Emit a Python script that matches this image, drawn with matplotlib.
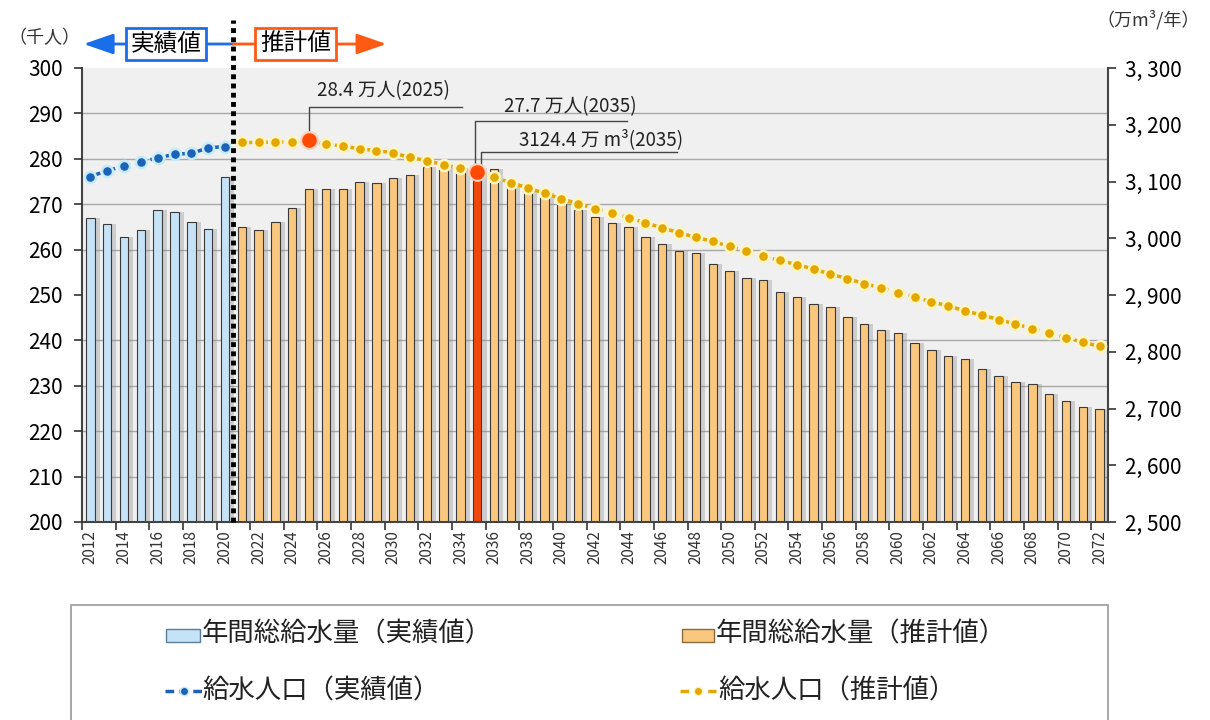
import matplotlib
matplotlib.use("Agg")
import matplotlib.pyplot as plt
from matplotlib.patches import Rectangle
from matplotlib.lines import Line2D
import matplotlib.transforms as mtransforms

plt.rcParams['font.family'] = ['Noto Sans CJK JP', 'DejaVu Sans']

# ---------------- data ----------------
years_actual = list(range(2012, 2021))
years_proj = list(range(2021, 2073))

# 年間総給水量 (万m3/年)
supply_actual = [3036, 3025, 3002, 3015, 3050, 3047, 3029, 3017, 3108]
supply_proj = [3020, 3015, 3029, 3054, 3086, 3086, 3086, 3100, 3098, 3106,
               3111, 3125, 3124, 3119, 3124.4, 3122, 3098, 3084, 3079, 3064,
               3049, 3037, 3026, 3020, 3002, 2990, 2978, 2974, 2954, 2943,
               2930, 2927, 2906, 2896, 2884, 2879, 2862, 2849, 2838, 2833,
               2815, 2803, 2793, 2787, 2769, 2758, 2746, 2744, 2725, 2714,
               2702, 2699]

# 給水人口 (千人)
pop_actual = [276.1, 277.4, 278.4, 279.3, 280.2, 281.0, 281.2, 282.4, 282.7]
pop_proj = [283.6, 283.6, 283.7, 283.7, 284.1, 283.2, 282.8, 282.2, 281.8, 281.3,
            280.3, 279.6, 278.7, 277.9, 277.0, 276.0, 274.7, 273.6, 272.4, 271.2,
            270.1, 269.0, 268.1, 267.0, 265.9, 264.8, 263.7, 262.7, 261.8, 260.7,
            259.6, 258.6, 257.6, 256.7, 255.7, 254.6, 253.6, 252.5, 251.6, 250.5,
            249.6, 248.5, 247.6, 246.5, 245.6, 244.6, 243.6, 242.6, 241.6, 240.6,
            239.6, 238.7]

highlight_years = [2025, 2035]
highlight_bar_year = 2035

left_ticks = [200, 210, 220, 230, 240, 250, 260, 270, 280, 290, 300]
right_ticks = [2500, 2600, 2700, 2800, 2900, 3000, 3100, 3200, 3300]

legend_labels = ['年間総給水量（実績値）', '年間総給水量（推計値）',
                 '給水人口（実績値）', '給水人口（推計値）']

# ---------------- colours ----------------
c_bar_act = '#c6e2f6'
c_bar_proj = '#fac77f'
c_bar_hi = '#f0480c'
c_edge = '#3a3a3a'
c_pop_act = '#1c63b8'
c_pop_act_edge = '#c4ecfa'
c_pop_proj = '#e4a600'
c_pop_proj_edge = '#fff5bf'
c_hi = '#ff4a06'
c_blue = '#1a6ee8'
c_orange = '#ff5a14'

L_MIN, L_MAX = 200, 300
R_MIN, R_MAX = 2500, 3300

fig = plt.figure(figsize=(12.1, 7.2), dpi=100)
ax = fig.add_axes([82 / 1210, 1 - 522 / 720, 1026 / 1210, 454 / 720])
ax.set_facecolor('#f0f0f0')

bw = 0.5
all_years = years_actual + years_proj
all_supply = supply_actual + supply_proj
ax.bar([y + 0.3 for y in all_years], [v - R_MIN for v in all_supply], bottom=R_MIN,
       width=bw, color='#8c8c8c', alpha=0.35, linewidth=0, zorder=1)
ax.bar(years_actual, [v - R_MIN for v in supply_actual], bottom=R_MIN, width=bw,
       color=c_bar_act, edgecolor=c_edge, linewidth=0.8, zorder=2)
proj_colors = [c_bar_hi if y == highlight_bar_year else c_bar_proj for y in years_proj]
ax.bar(years_proj, [v - R_MIN for v in supply_proj], bottom=R_MIN, width=bw,
       color=proj_colors, edgecolor=c_edge, linewidth=0.8, zorder=2)

ax.set_xlim(2011.5, 2072.5)
ax.set_ylim(R_MIN, R_MAX)

# gridlines follow the left (population) scale, drawn behind the bars
scale = (R_MAX - R_MIN) / (L_MAX - L_MIN)
ax.set_yticks([R_MIN + (t - L_MIN) * scale for t in left_ticks], minor=True)
ax.grid(axis='y', which='minor', color='#a8a8a8', linewidth=1.0, zorder=0)
ax.grid(axis='y', which='major', visible=False)
ax.set_axisbelow(True)

ax.set_xticks(list(range(2012, 2073, 2)))
ax.set_xticklabels([str(y) for y in range(2012, 2073, 2)], rotation=90, fontsize=11,
                   color='#333333')
ax.set_xticks([2011.5 + 2 * k for k in range(31)], minor=True)
ax.tick_params(axis='x', which='major', length=0, pad=6)
ax.tick_params(axis='x', which='minor', length=6, width=1.2, color='#333333')

for s in ['left', 'right', 'bottom']:
    ax.spines[s].set_color('#444444')
    ax.spines[s].set_linewidth(1.5)
ax.spines['top'].set_visible(False)

# population axis (left)
ax2 = ax.twinx()
ax2.set_ylim(L_MIN, L_MAX)

# right axis: supply volume
ax.yaxis.tick_right()
ax.set_yticks(right_ticks)
ax.set_yticklabels([f"{v // 1000}, {v % 1000:03d}" for v in right_ticks], fontsize=15)
ax.tick_params(axis='y', which='major', left=False, labelleft=False, right=True, labelright=True,
               direction='out', length=6, width=1.2, color='#333333', pad=6)
ax.tick_params(axis='y', which='minor', left=False, right=False, length=0)

ax2.yaxis.tick_left()
ax2.set_yticks(left_ticks)
ax2.set_yticklabels([str(v) for v in left_ticks], fontsize=15)
ax2.tick_params(axis='y', which='both', right=False, labelright=False, left=True, labelleft=True,
                direction='out', length=6, width=1.2, color='#333333', pad=8)
for s in ['top', 'right', 'bottom', 'left']:
    ax2.spines[s].set_visible(False)

ax2.plot(years_actual, pop_actual, linestyle=(0, (3, 1.5)), color=c_pop_act, linewidth=2.5,
         marker='o', markersize=8, markerfacecolor=c_pop_act, markeredgecolor=c_pop_act_edge,
         markeredgewidth=1.8, zorder=5)
ax2.plot(years_proj, pop_proj, linestyle=(0, (3, 1.5)), color=c_pop_proj, linewidth=2.5,
         marker='o', markersize=8, markerfacecolor=c_pop_proj, markeredgecolor=c_pop_proj_edge,
         markeredgewidth=1.8, zorder=5)
hi_vals = [pop_proj[years_proj.index(y)] for y in highlight_years]
ax2.plot(highlight_years, hi_vals, linestyle='none', marker='o', markersize=12,
         markerfacecolor=c_hi, markeredgecolor='#ffd0b8', markeredgewidth=1.5, zorder=6)

# vertical dotted separator
ax2.plot([2020.5, 2020.5], [200, 310.5], color='black', linewidth=3.5,
         linestyle=(0, (1, 0.9)), clip_on=False, zorder=7)

# annotations
ann_col = '#444444'
p25 = pop_proj[years_proj.index(2025)]
p35 = pop_proj[years_proj.index(2035)]
ax2.plot([2025, 2025, 2034.1], [p25 + 0.8, 291.4, 291.4], color=ann_col, lw=1, zorder=4)
ax2.text(2025.5, 295.0, '28.4 万人(2025)', fontsize=13.5, va='center', ha='left', color='#222222')
ax2.plot([2034.85, 2034.85, 2043.9], [p35 + 0.8, 288.3, 288.3], color=ann_col, lw=1, zorder=4)
ax2.text(2036.6, 291.4, '27.7 万人(2035)', fontsize=13.5, va='center', ha='left', color='#222222')
ax2.plot([2035.2, 2035.2, 2046.9], [p35 + 0.5, 281.6, 281.6], color=ann_col, lw=1, zorder=4)
ax2.text(2037.5, 284.2, '3124.4 万 m³(2035)', fontsize=13.5, va='center', ha='left', color='#222222')

# header arrows and boxes
trans = mtransforms.blended_transform_factory(ax.transData, ax.transAxes)
yh = (522 - 44) / 454
ax.annotate('', xy=(2011.6, yh), xytext=(2020.5, yh), xycoords=trans, textcoords=trans,
            arrowprops=dict(arrowstyle='-|>,head_length=1.3,head_width=0.45', color=c_blue,
                            lw=2, mutation_scale=14, shrinkA=0, shrinkB=0), annotation_clip=False)
ax.annotate('', xy=(2029.6, yh), xytext=(2020.5, yh), xycoords=trans, textcoords=trans,
            arrowprops=dict(arrowstyle='-|>,head_length=1.3,head_width=0.45', color=c_orange,
                            lw=2, mutation_scale=14, shrinkA=0, shrinkB=0), annotation_clip=False)
ax.text(2016.5, yh, '実績値', transform=trans, fontsize=17, ha='center', va='center', zorder=8,
        bbox=dict(boxstyle='square,pad=0.2', facecolor='white', edgecolor=c_blue, linewidth=2))
ax.text(2024.2, yh, '推計値', transform=trans, fontsize=17, ha='center', va='center', zorder=8,
        bbox=dict(boxstyle='square,pad=0.2', facecolor='white', edgecolor=c_orange, linewidth=2))

# unit labels
fig.text(8 / 1210, 1 - 38 / 720, '（千人）', fontsize=13, ha='left', va='center', color='#333333')
fig.text(1200 / 1210, 1 - 20 / 720, '（万m³/年）', fontsize=13, ha='right', va='center',
         color='#333333')

# legend (manual, figure coordinates)
fig.patches.append(Rectangle((71 / 1210, -0.01), (1108 - 71) / 1210, (0.01 + 1 - 605 / 720),
                             transform=fig.transFigure, facecolor='white',
                             edgecolor='#9a9a9a', linewidth=1.2))
fig.patches.append(Rectangle((166 / 1210, 1 - 642 / 720), 34 / 1210, 13 / 720,
                             transform=fig.transFigure, facecolor=c_bar_act,
                             edgecolor='#5a7d99', linewidth=1))
fig.patches.append(Rectangle((682 / 1210, 1 - 642 / 720), 32 / 1210, 13 / 720,
                             transform=fig.transFigure, facecolor=c_bar_proj,
                             edgecolor='#8a6a3a', linewidth=1))
fig.lines.append(Line2D([165 / 1210, 203 / 1210], [1 - 691 / 720] * 2, transform=fig.transFigure,
                        color=c_pop_act, linestyle=(0, (2.5, 1.5)), linewidth=2.5))
fig.lines.append(Line2D([184 / 1210], [1 - 691 / 720], transform=fig.transFigure,
                        marker='o', markersize=6, color=c_pop_act,
                        markeredgecolor=c_pop_act_edge, markeredgewidth=1))
fig.lines.append(Line2D([680 / 1210, 716 / 1210], [1 - 691 / 720] * 2, transform=fig.transFigure,
                        color=c_pop_proj, linestyle=(0, (2.5, 1.5)), linewidth=2.5))
fig.lines.append(Line2D([698 / 1210], [1 - 691 / 720], transform=fig.transFigure,
                        marker='o', markersize=6, color=c_pop_proj,
                        markeredgecolor=c_pop_proj_edge, markeredgewidth=1))
leg_pos = [(202, 634), (716, 634), (202, 691), (718, 691)]
for (px, py), lab in zip(leg_pos, legend_labels):
    fig.text(px / 1210, 1 - py / 720, lab, fontsize=19, ha='left', va='center', color='#222222')

fig.savefig('out.png', dpi=100)
